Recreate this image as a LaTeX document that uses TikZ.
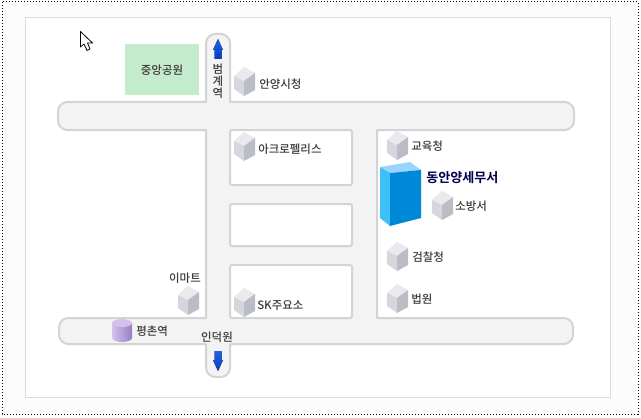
\documentclass[tikz,border=0pt]{standalone}
\usepackage{fontspec}
\setmainfont{Noto Sans CJK KR Medium}
\newfontfamily\mapbold{Noto Sans CJK KR Bold}
\definecolor{roadline}{HTML}{D4D4D4}
\definecolor{roadfill}{HTML}{F3F3F3}
\definecolor{labelgray}{HTML}{3F3A38}
\definecolor{arrowblue}{HTML}{1C62E8}
\definecolor{arrowdark}{HTML}{0A3CBE}
\definecolor{stationlight}{HTML}{D4C2EC}
\definecolor{stationdark}{HTML}{9A7CC8}
\begin{document}
\begin{tikzpicture}[x=0.75pt,y=-0.75pt,
                    place label/.style={text=labelgray,font=\fontsize{8.6}{10}\selectfont,
                                        inner sep=0pt,anchor=west},
                    center label/.style={place label,anchor=center},
                    road/.style={draw=roadline,line width=1.5pt,fill=roadfill,line join=round},
                    block/.style={draw=roadline,line width=1.5pt,fill=white,rounded corners=1.5pt,outer sep=0pt},
                    subway arrow/.style={top color=arrowblue,bottom color=arrowdark,draw=none},
                    pics/building/.style={code={
                      \fill[fill={rgb,255:red,233;green,233;blue,238}] (0,0) -- (11,6) -- (0,14) -- (-10,9) -- cycle;
                      \fill[fill={rgb,255:red,214;green,214;blue,222}] (-10,9) -- (0,14) -- (0,29) -- (-10,22) -- cycle;
                      \fill[fill={rgb,255:red,186;green,189;blue,198}] (11,6) -- (0,14) -- (0,29) -- (11,23) -- cycle;
                    }}
                   ]
   \useasboundingbox (0,0) rectangle (641,417);
   % frame
   \draw[black,line width=0.75pt,dash pattern=on 0.75pt off 1.5pt,fill=black!1] (2,2) rectangle (638,414);
   \draw[black!14,line width=0.75pt,fill=white] (25.5,18) rectangle (610.5,397);
   % roads
   \draw[road]
     (206,102) [rounded corners=7pt] -- (206,34) -- (230,34) [sharp corners] -- (230,102)
     [rounded corners=7pt] -- (574,102) -- (574,130) [sharp corners] -- (377,130) -- (377,318)
     [rounded corners=7pt] -- (573,318) -- (573,344) [sharp corners] -- (230,344)
     [rounded corners=7pt] -- (230,377) -- (206,377) [sharp corners] -- (206,344)
     [rounded corners=7pt] -- (59,344) -- (59,318) [sharp corners] -- (206,318) -- (206,130)
     [rounded corners=7pt] -- (58,130) -- (58,102) [sharp corners] -- cycle;
   \node[block,minimum width=91.5pt,minimum height=41.25pt,anchor=north west] (acroblock) at (230,130) {};
   \node[block,minimum width=91.5pt,minimum height=31.5pt,anchor=north west] (emptyblock) at (230,204) {};
   \node[block,minimum width=91.5pt,minimum height=39.75pt,anchor=north west] (skblock) at (230,265) {};
   % park
   \node[fill={rgb,255:red,196;green,236;blue,204},minimum width=55.5pt,minimum height=38.25pt,
         inner sep=0pt,text=labelgray,font=\fontsize{8.6}{10}\selectfont] (park) at (162,70) {중앙공원};
   % subway arrows
   \fill[subway arrow] (218,39) -- (223,50) -- (221.5,50) -- (221.5,59) -- (214.5,59) -- (214.5,50) -- (213,50) -- cycle;
   \fill[subway arrow] (218,371) -- (223,360) -- (221.5,360) -- (221.5,351) -- (214.5,351) -- (214.5,360) -- (213,360) -- cycle;
   \node[center label,align=center,font=\fontsize{8.6}{9}\selectfont] (beomgye) at (218,81) {범\\계\\역};
   \node[center label] (indeogwon) at (217,337) {인덕원};
   % buildings
   \pic at (244,67) {building};
   \pic at (244,132) {building};
   \pic at (244,288) {building};
   \pic at (188,286) {building};
   \pic at (397,131) {building};
   \pic at (442,191) {building};
   \pic at (397,242) {building};
   \pic at (397,284) {building};
   \node[place label] (anyang) at (259,84) {안양시청};
   \node[place label] (acro) at (258,149) {아크로펠리스};
   \node[place label] (sk) at (257,306) {SK주요소};
   \node[center label] (emart) at (185,278) {이마트};
   \node[place label] (edu) at (411,146) {교육청};
   \node[place label] (fire) at (455,206) {소방서};
   \node[place label] (prosecutor) at (412,257) {검찰청};
   \node[place label] (court) at (411,299) {법원};
   % tax office
   \fill[fill={rgb,255:red,153;green,212;blue,255}] (380,167) -- (410,162) -- (421,170) -- (390,173) -- cycle;
   \fill[fill={rgb,255:red,60;green,192;blue,245}] (380,167) -- (390,173) -- (390,226) -- (380,218) -- cycle;
   \fill[fill={rgb,255:red,0;green,136;blue,216}] (390,173) -- (421,170) -- (421,218) -- (390,226) -- cycle;
   \node[inner sep=0pt,anchor=west,text=blue!30!black,font=\mapbold\fontsize{9.8}{11}\selectfont] (taxoffice) at (426,178) {동안양세무서};
   % station
   \shade[left color=stationlight,right color=stationdark] (112,323) -- (112,338) arc[start angle=180,end angle=0,x radius=10,y radius=4] -- (132,323) -- cycle;
   \fill[stationlight] (122,323) ellipse[x radius=10,y radius=4];
   \node[place label] (pyeongchon) at (136,331) {평촌역};
   % cursor
   \draw[black,line width=0.6pt,fill=white,line join=round] (80.5,31.5) -- (80.5,47) -- (84,44) -- (87,50.5) -- (90,49) -- (87.5,43) -- (92.5,43) -- cycle;
 \end{tikzpicture}
\end{document}
